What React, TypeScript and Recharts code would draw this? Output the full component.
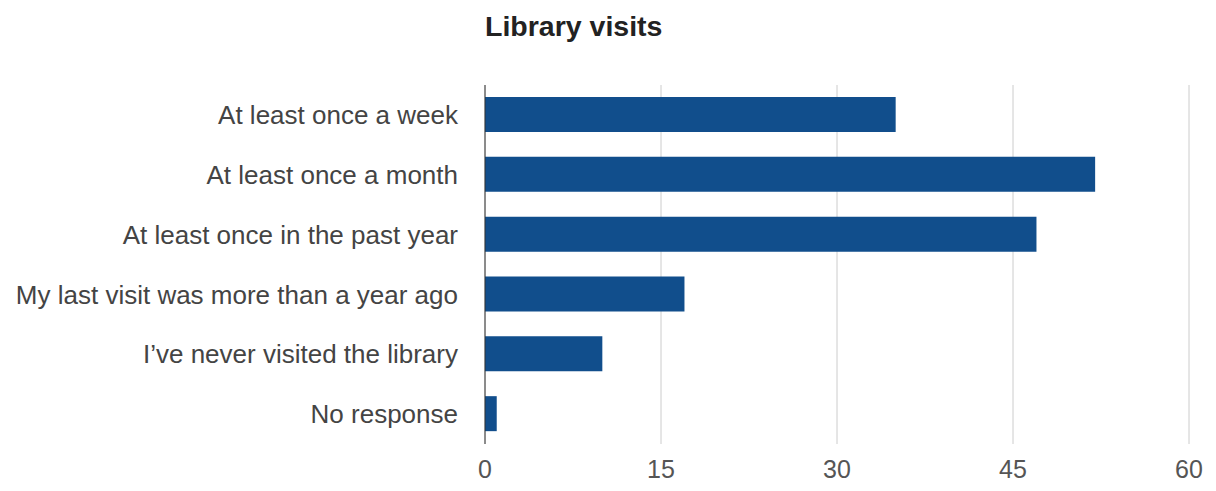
import { Bar, BarChart, CartesianGrid, XAxis, YAxis } from "recharts";

const categories = [
  "At least once a week",
  "At least once a month",
  "At least once in the past year",
  "My last visit was more than a year ago",
  "I\u2019ve never visited the library",
  "No response",
];
const visits = [35, 52, 47, 17, 10, 1];
const xTicks = [0, 15, 30, 45, 60];

const data = categories.map((name, i) => ({ name, value: visits[i] }));

export default function App() {
  return (
    <div
      style={{
        position: "absolute",
        left: 0,
        top: 0,
        width: 1216,
        height: 491,
        background: "#fff",
        fontFamily: "'Liberation Sans', Arial, sans-serif",
      }}
    >
      <div
        style={{
          position: "absolute",
          left: 485,
          top: 10,
          fontSize: 28.5,
          fontWeight: "bold",
          color: "#222",
          lineHeight: "32px",
        }}
      >
        Library visits
      </div>
      <BarChart
        width={1216}
        height={491}
        data={data}
        layout="vertical"
        margin={{ top: 85, right: 27, left: 0, bottom: 7 }}
      >
        <CartesianGrid horizontal={false} stroke="#cccccc" />
        <XAxis
          type="number"
          domain={[0, 60]}
          ticks={xTicks}
          axisLine={false}
          tickLine={false}
          tickSize={0}
          tickMargin={16}
          height={40}
          tick={{ fill: "#555", fontSize: 25 }}
        />
        <YAxis
          type="category"
          dataKey="name"
          width={485}
          axisLine={{ stroke: "#333" }}
          tickLine={false}
          tickSize={0}
          tickMargin={27}
          tick={{ fill: "#444", fontSize: 26 }}
        />
        <Bar dataKey="value" fill="#114e8c" barSize={35} isAnimationActive={false} />
      </BarChart>
    </div>
  );
}
